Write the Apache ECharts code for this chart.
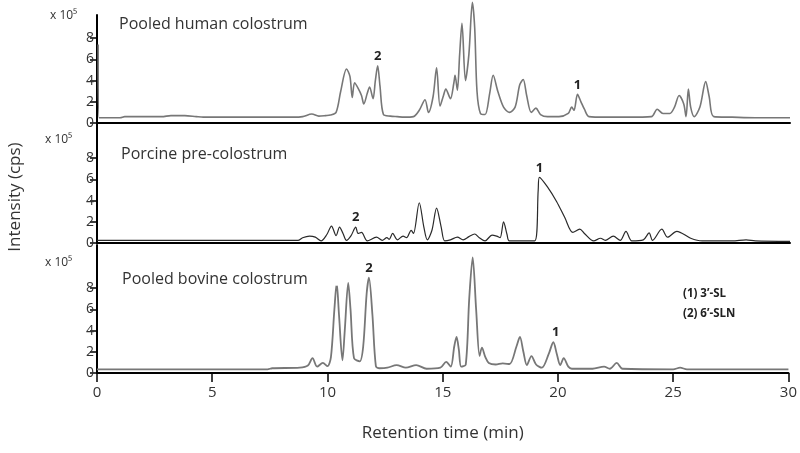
<!DOCTYPE html>
<html>
<head>
<meta charset="utf-8">
<script src="https://cdn.jsdelivr.net/npm/echarts@6/dist/echarts.min.js"></script>
<style>html,body{margin:0;padding:0;background:#fff;}#c{width:800px;height:453px;}</style>
</head>
<body>
<div id="c"></div>
<script>
// ---- data ----
const panelTitles = ['Pooled human colostrum', 'Porcine pre-colostrum', 'Pooled bovine colostrum'];
const xTicks = [0, 5, 10, 15, 20, 25, 30];
const yTicks = [0, 2, 4, 6, 8];

const humanT = [0.05, 0.09, 1.0, 1.2, 2.8, 3.2, 3.8, 4.3, 4.6, 8.5,
  8.9, 9.3, 9.6, 9.9, 10.1, 10.35, 10.55, 10.8, 10.95, 11.05,
  11.15, 11.3, 11.45, 11.55, 11.7, 11.8, 11.95, 12.05, 12.15, 12.25,
  12.4, 12.7, 13.0, 13.3, 13.7, 13.95, 14.2, 14.35, 14.55, 14.7,
  14.85, 15.0, 15.1, 15.3, 15.45, 15.5, 15.6, 15.7, 15.8, 15.95,
  16.1, 16.25, 16.35, 16.45, 16.6, 16.8, 17.0, 17.15, 17.35, 17.6,
  17.85, 18.1, 18.3, 18.45, 18.6, 18.8, 19.0, 19.2, 19.5, 20.0,
  20.4, 20.55, 20.65, 20.8, 20.95, 21.1, 21.3, 22, 23, 24.0,
  24.25, 24.5, 24.8, 25.0, 25.2, 25.4, 25.5, 25.6, 25.7, 25.85,
  26.1, 26.35, 26.5, 26.7, 27.5, 28.5, 30];
const humanI = [7.4, 0.5, 0.5, 0.6, 0.6, 0.7, 0.7, 0.6, 0.55, 0.55,
  0.6, 0.85, 0.65, 0.7, 0.75, 1.0, 3.0, 5.1, 4.4, 2.4,
  3.8, 3.3, 2.6, 1.8, 2.8, 3.4, 2.3, 4.0, 5.4, 3.5,
  0.8, 0.65, 0.6, 0.55, 0.6, 1.2, 2.2, 1.0, 2.5, 5.2,
  1.6, 2.6, 3.2, 2.3, 3.8, 4.5, 3.1, 6.5, 9.4, 4.0,
  6.5, 11.4, 9.0, 3.0, 0.9, 0.8, 2.8, 4.5, 3.0, 1.5,
  1.0, 1.5, 3.6, 4.1, 2.6, 1.0, 1.4, 0.8, 0.6, 0.6,
  0.9, 1.5, 1.2, 2.7, 2.0, 1.3, 0.6, 0.55, 0.55, 0.6,
  1.3, 0.9, 0.9, 1.5, 2.6, 1.8, 0.6, 3.2, 1.5, 0.6,
  1.5, 3.9, 2.5, 0.6, 0.55, 0.5, 0.5];

const porcineT = [0, 8.7, 8.9, 9.2, 9.45, 9.7, 9.95, 10.15, 10.35, 10.5,
  10.65, 10.8, 11.0, 11.2, 11.3, 11.45, 11.7, 12.1, 12.35, 12.55,
  12.65, 12.8, 13.0, 13.25, 13.4, 13.6, 13.7, 13.95, 14.15, 14.3,
  14.5, 14.7, 14.9, 15.05, 15.3, 15.6, 15.85, 16.1, 16.35, 16.55,
  16.8, 17.1, 17.3, 17.45, 17.6, 17.75, 17.85, 18.95, 19.1, 19.15,
  19.5, 19.9, 20.25, 20.6, 20.9, 21.1, 21.5, 21.8, 22.0, 22.35,
  22.65, 22.9, 23.15, 23.65, 23.9, 24.05, 24.45, 24.7, 25.1, 25.7,
  26.2, 27.5, 28.1, 28.5, 30];
const porcineI = [0.25, 0.25, 0.5, 0.65, 0.55, 0.2, 0.8, 1.6, 0.7, 1.5,
  0.9, 0.25, 0.7, 1.5, 0.9, 1.0, 0.2, 0.55, 0.25, 0.5,
  0.35, 0.9, 0.3, 0.65, 0.5, 1.2, 0.9, 3.8, 1.5, 0.3,
  1.2, 3.3, 1.5, 0.2, 0.3, 0.55, 0.3, 0.6, 0.85, 0.5,
  0.2, 0.75, 0.65, 0.5, 2.0, 0.8, 0.2, 0.2, 5.0, 6.2,
  5.3, 3.9, 2.4, 1.0, 1.3, 0.9, 0.2, 0.45, 0.25, 0.65,
  0.25, 1.1, 0.2, 0.3, 0.95, 0.25, 1.3, 0.55, 1.1, 0.45,
  0.2, 0.2, 0.3, 0.2, 0.15];

const bovineT = [0, 7.4, 7.6, 8.8, 9.15, 9.35, 9.55, 9.8, 10.0, 10.15,
  10.3, 10.4, 10.5, 10.65, 10.75, 10.9, 11.0, 11.15, 11.4, 11.55,
  11.7, 11.8, 11.95, 12.1, 12.25, 12.6, 13.0, 13.4, 13.85, 14.3,
  14.9, 15.15, 15.35, 15.5, 15.6, 15.7, 15.8, 16.0, 16.15, 16.3,
  16.45, 16.6, 16.7, 16.85, 17.0, 17.3, 17.6, 17.9, 18.2, 18.35,
  18.5, 18.65, 18.85, 19.05, 19.3, 19.6, 19.8, 19.95, 20.1, 20.25,
  20.45, 20.6, 21.5, 22.0, 22.25, 22.55, 22.8, 25.0, 25.3, 25.6,
  30];
const bovineI = [0.35, 0.35, 0.45, 0.5, 0.7, 1.4, 0.6, 0.95, 0.65, 1.5,
  6.0, 8.5, 5.5, 1.2, 4.0, 8.5, 6.0, 1.4, 1.1, 2.5,
  7.5, 9.0, 5.5, 0.65, 0.45, 0.5, 0.75, 0.5, 0.75, 0.4,
  0.5, 1.05, 0.6, 2.5, 3.4, 2.2, 0.6, 0.8, 7.0, 10.9,
  6.0, 1.6, 2.4, 1.5, 0.95, 0.8, 0.9, 0.85, 2.5, 3.4,
  2.0, 0.75, 1.6, 0.8, 0.5, 1.8, 2.9, 1.8, 0.75, 1.4,
  0.6, 0.4, 0.4, 0.6, 0.4, 0.95, 0.4, 0.35, 0.5, 0.35,
  0.35];

// peak annotations: [time, intensity, label]
const humanPeaks = [[12.15, 5.4, '2'], [20.8, 2.7, '1']];
const porcinePeaks = [[11.2, 1.5, '2'], [19.15, 6.2, '1']];
const bovinePeaks = [[11.8, 9.0, '2'], [19.9, 2.9, '1']];
const bovineCircle = [[10.4, 8.6]];
const legendLines = ['(1) 3\u2019-SL', '(2) 6\u2019-SLN'];

// ---- chart ----
const FONT = '"Open Sans", "Liberation Sans", sans-serif';
const zip = (t, v) => t.map((x, i) => [x, v[i]]);

const grids = [
  { left: 97, right: 10, top: 15, height: 108 },
  { left: 97, right: 10, top: 124, height: 119 },
  { left: 97, right: 10, top: 245, height: 128 }
];
const ymax = [10.19, 11.23, 12.08];

const xAxes = grids.map((g, i) => ({
  gridIndex: i, type: 'value', min: 0, max: 30, interval: 5,
  axisLine: { show: true, onZero: false, lineStyle: { color: '#000', width: 2 } },
  axisTick: { show: i === 2, inside: false, length: 9, lineStyle: { color: '#000', width: 1.5 } },
  axisLabel: { show: i === 2, fontSize: 15, color: '#333', margin: 12, fontFamily: FONT },
  splitLine: { show: false },
  name: i === 2 ? 'Retention time (min)' : '',
  nameLocation: 'middle', nameGap: 52,
  nameTextStyle: { fontSize: 17, color: '#333', fontFamily: FONT }
}));

const yAxes = grids.map((g, i) => ({
  gridIndex: i, type: 'value', min: 0, max: ymax[i],
  axisLine: { show: true, lineStyle: { color: '#000', width: 2 } },
  axisTick: { show: true, customValues: yTicks, length: 7, lineStyle: { color: '#000', width: 1.5 } },
  axisLabel: { customValues: yTicks, fontSize: 14, color: '#333', margin: 3, fontFamily: FONT },
  splitLine: { show: false }
}));

function peakMarks(peaks, dist, extra) {
  const data = peaks.map(p => ({ coord: [p[0], p[1]], name: p[2] }));
  (extra || []).forEach(p => data.push({
    coord: [p[0], p[1]], name: '', symbol: 'emptyCircle', symbolSize: 6,
    itemStyle: { color: '#fff', borderColor: '#888', borderWidth: 1.5 },
    label: { show: false }
  }));
  return {
    symbol: 'circle', symbolSize: 0, silent: true,
    label: {
      show: true, position: 'top', distance: dist, fontSize: 13, fontWeight: 'bold',
      color: '#222', fontFamily: FONT, formatter: p => p.data.name
    },
    data: data
  };
}

const series = [
  {
    type: 'line', xAxisIndex: 0, yAxisIndex: 0, data: zip(humanT, humanI),
    showSymbol: false, smooth: 0.3, clip: false,
    lineStyle: { color: '#777', width: 1.6 }, markPoint: peakMarks(humanPeaks, 3)
  },
  {
    type: 'line', xAxisIndex: 1, yAxisIndex: 1, data: zip(porcineT, porcineI),
    showSymbol: false, smooth: 0.3, clip: false,
    lineStyle: { color: '#2a2a2a', width: 1.2 }, markPoint: peakMarks(porcinePeaks, 3)
  },
  {
    type: 'line', xAxisIndex: 2, yAxisIndex: 2, data: zip(bovineT, bovineI),
    showSymbol: false, smooth: 0.3, clip: false,
    lineStyle: { color: '#777', width: 1.8 }, markPoint: peakMarks(bovinePeaks, 3, bovineCircle)
  }
];

const titles = [
  { text: panelTitles[0], left: 114, top: 11 },
  { text: panelTitles[1], left: 116, top: 141 },
  { text: panelTitles[2], left: 117, top: 266 }
].map(t => Object.assign(t, {
  textStyle: { fontSize: 16, fontWeight: 'normal', color: '#333', fontFamily: FONT }
}));

const unitPos = [[50, 18], [45, 142], [45, 265]];
const graphic = unitPos.map(p => ({
  type: 'text', left: p[0], top: p[1] - 8,
  style: { text: 'x 10\u2075', fontSize: 12, fill: '#333', fontFamily: FONT }
}));
graphic.push({
  type: 'text', x: 15, y: 197, rotation: Math.PI / 2,
  style: { text: 'Intensity (cps)', fontSize: 17, fill: '#333', fontFamily: FONT,
    align: 'center', verticalAlign: 'middle' }
});
legendLines.forEach((s, i) => graphic.push({
  type: 'text', left: 683, top: 288 + i * 20,
  style: { text: s, fontSize: 11.5, fontWeight: 'bold', fill: '#222', fontFamily: FONT }
}));

const chart = echarts.init(document.getElementById('c'), null, { renderer: 'canvas' });
chart.setOption({
  backgroundColor: '#fff',
  animation: false,
  title: titles,
  grid: grids,
  xAxis: xAxes,
  yAxis: yAxes,
  series: series,
  graphic: graphic
});
</script>
</body>
</html>
